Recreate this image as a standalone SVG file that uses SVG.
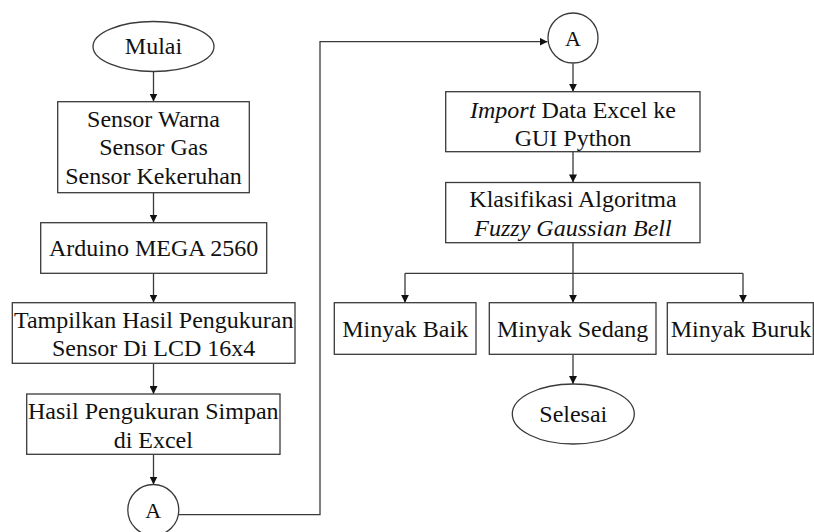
<svg xmlns="http://www.w3.org/2000/svg" width="814" height="532" viewBox="0 0 814 532" font-family="'Liberation Serif', 'Times New Roman', 'DejaVu Serif', serif">
<defs>
<style>
.n{fill:#fff;stroke:#3a3a3a;stroke-width:1.3}
text{font-family:'Liberation Serif','Times New Roman','DejaVu Serif',serif;font-size:24px;fill:#111;text-anchor:middle}
.a{font-size:22px}
.c{fill:none;stroke:#3a3a3a;stroke-width:1.3}
</style>
<marker id="ar" viewBox="0 0 10 10" refX="10" refY="5" markerWidth="8" markerHeight="8" markerUnits="userSpaceOnUse" orient="auto">
<path d="M0,0 L10,5 L0,10 z" fill="#111"/>
</marker>
</defs>
<rect width="814" height="532" fill="#fff"/>
<g id="connectors">
<path class="c" d="M153.5,71.5 V101.5" marker-end="url(#ar)"/>
<path class="c" d="M153.5,192.7 V222.5" marker-end="url(#ar)"/>
<path class="c" d="M153.5,273.3 V302.5" marker-end="url(#ar)"/>
<path class="c" d="M153.5,363.3 V394" marker-end="url(#ar)"/>
<path class="c" d="M153.5,454.3 V484.5" marker-end="url(#ar)"/>
<path class="c" d="M179,514.7 H320 V41.7 H547.5" marker-end="url(#ar)"/>
<path class="c" d="M573,63.5 V91.7" marker-end="url(#ar)"/>
<path class="c" d="M573,151.7 V182.4" marker-end="url(#ar)"/>
<path class="c" d="M573,242.7 V273.3 M405,273.3 H743"/>
<path class="c" d="M405,273.3 V302.7" marker-end="url(#ar)"/>
<path class="c" d="M573,273.3 V302.7" marker-end="url(#ar)"/>
<path class="c" d="M743,273.3 V302.7" marker-end="url(#ar)"/>
<path class="c" d="M573,354.3 V384" marker-end="url(#ar)"/>
</g>
<g id="mulai">
<ellipse class="n" cx="153.5" cy="46.5" rx="60.5" ry="25"/>
<text x="153.5" y="54">Mulai</text>
</g>
<g id="sensor">
<rect class="n" x="57.7" y="101.7" width="191.6" height="91"/>
<text x="153.5" y="126.5">Sensor Warna</text>
<text x="153.5" y="155.3">Sensor Gas</text>
<text x="153.5" y="184">Sensor Kekeruhan</text>
</g>
<g id="arduino">
<rect class="n" x="40.7" y="222.7" width="226" height="50.6"/>
<text x="153.7" y="255.5">Arduino MEGA 2560</text>
</g>
<g id="tampilkan">
<rect class="n" x="12.3" y="302.7" width="282.7" height="60.6"/>
<text x="153.7" y="327.5">Tampilkan Hasil Pengukuran</text>
<text x="153.7" y="356">Sensor Di LCD 16x4</text>
</g>
<g id="simpan">
<rect class="n" x="26.7" y="394" width="253.3" height="60.3"/>
<text x="153.3" y="419.3">Hasil Pengukuran Simpan</text>
<text x="153.3" y="447.7">di Excel</text>
</g>
<g id="a1">
<circle class="n" cx="153.3" cy="510" r="25.5"/>
<text class="a" x="153.3" y="518">A</text>
</g>
<g id="a2">
<circle class="n" cx="573" cy="38" r="25"/>
<text class="a" x="573" y="45.5">A</text>
</g>
<g id="import">
<rect class="n" x="445.7" y="91.7" width="254.3" height="60"/>
<text x="573" y="117.5"><tspan font-style="italic">Import</tspan> Data Excel ke</text>
<text x="573" y="145.5">GUI Python</text>
</g>
<g id="klasifikasi">
<rect class="n" x="445.7" y="182.5" width="254.3" height="60.2"/>
<text x="573" y="207.3">Klasifikasi Algoritma</text>
<text x="573" y="236" font-style="italic">Fuzzy Gaussian Bell</text>
</g>
<g id="baik">
<rect class="n" x="334.3" y="302.7" width="141.7" height="51.6"/>
<text x="405.2" y="337.3">Minyak Baik</text>
</g>
<g id="sedang">
<rect class="n" x="489.3" y="302.7" width="166.7" height="51.6"/>
<text x="572.7" y="337.3">Minyak Sedang</text>
</g>
<g id="buruk">
<rect class="n" x="667.3" y="302.7" width="146" height="51.6"/>
<text x="741" y="337.3">Minyak Buruk</text>
</g>
<g id="selesai">
<ellipse class="n" cx="573.3" cy="414" rx="61" ry="30"/>
<text x="573.3" y="422.3">Selesai</text>
</g>
</svg>
